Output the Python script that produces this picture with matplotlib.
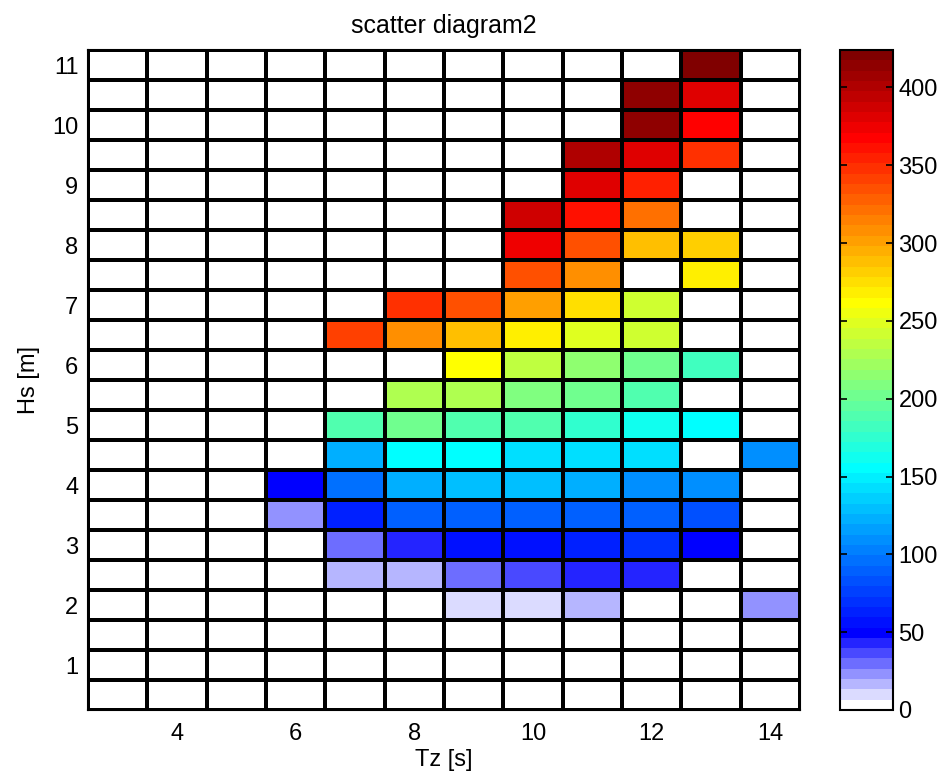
import numpy as np
import matplotlib.pyplot as plt
from matplotlib.colors import ListedColormap, BoundaryNorm

plt.rcParams['font.family'] = ['Liberation Sans', 'DejaVu Sans']

tz = [3, 4, 5, 6, 7, 8, 9, 10, 11, 12, 13, 14]
hs = [11.0, 10.5, 10.0, 9.5, 9.0, 8.5, 8.0, 7.5, 7.0, 6.5, 6.0,
      5.5, 5.0, 4.5, 4.0, 3.5, 3.0, 2.5, 2.0, 1.5, 1.0, 0.5]

# counts, rows follow hs (top to bottom), columns follow tz
counts = [
    [0, 0, 0, 0, 0, 0, 0, 0, 0, 0, 423, 0],
    [0, 0, 0, 0, 0, 0, 0, 0, 0, 414, 381, 0],
    [0, 0, 0, 0, 0, 0, 0, 0, 0, 414, 368, 0],
    [0, 0, 0, 0, 0, 0, 0, 0, 401, 381, 348, 0],
    [0, 0, 0, 0, 0, 0, 0, 0, 381, 354, 0, 0],
    [0, 0, 0, 0, 0, 0, 0, 388, 361, 321, 0, 0],
    [0, 0, 0, 0, 0, 0, 0, 374, 335, 288, 282, 0],
    [0, 0, 0, 0, 0, 0, 0, 335, 308, 0, 268, 0],
    [0, 0, 0, 0, 0, 348, 335, 301, 275, 242, 0, 0],
    [0, 0, 0, 0, 341, 308, 288, 268, 248, 242, 0, 0],
    [0, 0, 0, 0, 0, 0, 262, 235, 215, 202, 182, 0],
    [0, 0, 0, 0, 0, 229, 229, 209, 202, 189, 0, 0],
    [0, 0, 0, 0, 189, 202, 189, 189, 176, 162, 156, 0],
    [0, 0, 0, 0, 123, 156, 156, 142, 142, 142, 0, 109],
    [0, 0, 0, 50, 96, 123, 129, 129, 123, 109, 109, 0],
    [0, 0, 0, 23, 63, 89, 89, 89, 89, 89, 83, 0],
    [0, 0, 0, 0, 30, 43, 56, 56, 63, 70, 50, 0],
    [0, 0, 0, 0, 17, 17, 30, 36, 43, 43, 0, 0],
    [0, 0, 0, 0, 0, 0, 10, 10, 17, 0, 0, 23],
    [0] * 12,
    [0] * 12,
    [0] * 12,
]
vmax = 424


def matlab_jet(n=64):
    m = n // 4
    u = np.concatenate([np.arange(1, m + 1) / m, np.ones(m - 1), np.arange(m, 0, -1) / m])
    g = m // 2 + np.arange(1, len(u) + 1)
    r = g + m
    b = g - m
    J = np.zeros((n, 3))
    g = g[g <= n]
    r = r[r <= n]
    b = b[b >= 1]
    J[r - 1, 0] = u[:len(r)]
    J[g - 1, 1] = u[:len(g)]
    J[b - 1, 2] = u[len(u) - len(b):]
    return J


cols = matlab_jet(64)
# first 8 levels fade from white to blue
fade = 1 - np.arange(8) / 7
cols[:8] = np.column_stack([fade, fade, np.ones(8)])
cmap = ListedColormap(cols)
norm = BoundaryNorm(np.linspace(0, vmax, 65), 64)

x_edges = np.arange(len(tz) + 1) + tz[0] - 0.5
y_edges = np.array(hs[::-1] + [hs[0] + 0.5]) - 0.25
z = np.array(counts)[::-1]

fig = plt.figure(figsize=(9.42, 7.78), dpi=100)
ax = fig.add_axes([88 / 942, 68 / 778, 712 / 942, 660 / 778])
cax = fig.add_axes([840 / 942, 68 / 778, 53 / 942, 660 / 778])

mesh = ax.pcolormesh(x_edges, y_edges, z, cmap=cmap, norm=norm,
                     edgecolors='black', linewidth=1.5)
ax.set_xlim(x_edges[0], x_edges[-1])
ax.set_ylim(y_edges[0], y_edges[-1])
ax.set_xticks([4, 6, 8, 10, 12, 14])
ax.set_yticks(range(1, 12))
ax.tick_params(axis='x', length=0, labelsize=17, pad=9)
ax.tick_params(axis='y', length=0, labelsize=17, pad=7)
for s in ax.spines.values():
    s.set_linewidth(1.5)
ax.set_xlabel('Tz [s]', fontsize=17, labelpad=3)
ax.set_ylabel('Hs [m]', fontsize=17, labelpad=9)
ax.set_title('scatter diagram2', fontsize=18, pad=12,
             family=['Liberation Sans Narrow', 'Liberation Sans'])

cb = fig.colorbar(mesh, cax=cax, ticks=range(0, 401, 50))
cb.outline.set_linewidth(1.5)
cax.minorticks_off()
cax.tick_params(direction='in', length=5, width=1.2, labelsize=17, pad=4,
                left=True, right=True)

fig.savefig('out.png', dpi=100)
